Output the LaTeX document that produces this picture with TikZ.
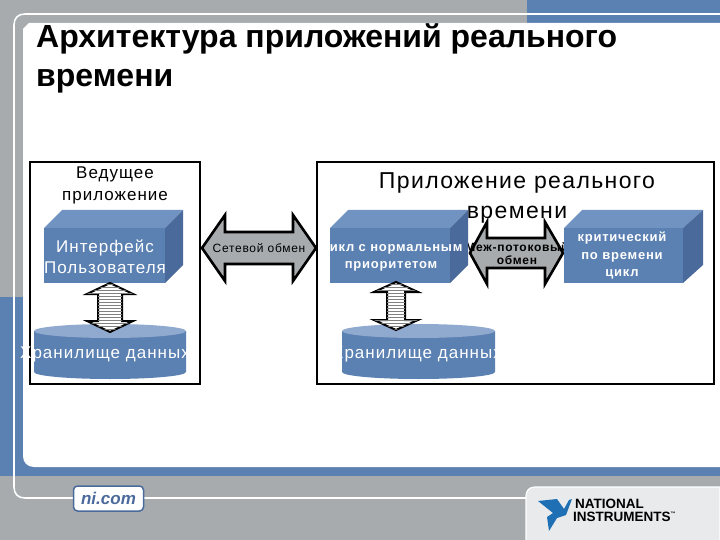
\documentclass[tikz,border=0pt]{standalone}
\usepackage{fontspec}
\setmainfont{Liberation Sans}
\newfontfamily\lab[LetterSpace=6]{Liberation Sans}
\usetikzlibrary{patterns}
\definecolor{bgray}{HTML}{A7ABAE}
\definecolor{nblue}{HTML}{5B80B2}
\definecolor{ntop}{HTML}{7093C2}
\definecolor{nside}{HTML}{4A6A9B}
\definecolor{ctop}{HTML}{8FA9CF}
\definecolor{logop}{HTML}{E8EAEB}
\definecolor{logob}{HTML}{1F6FB5}
\tikzset{x=1pt,y=-1pt,
  frame/.style={draw=black,line width=2pt,fill=white},
  wtext/.style={text=white,align=center,inner sep=0pt},
  btext/.style={text=black,align=center,inner sep=0pt},
  bigarrow/.style={draw=black,line width=2.6pt,fill=bgray,line join=miter},
  stripe/.style={draw=black,line width=2pt,fill=white,postaction={pattern=horizontal lines,pattern color=gray}},
}
% cuboid: x0 front left, x1 front right, x2 back right
\newcommand{\cuboid}[3]{%
  \fill[nblue] (#1,228) rectangle (#2,283);
  \fill[ntop] (#1,228) -- (#1+18,210) -- (#3,210) -- (#2,228) -- cycle;
  \fill[nside] (#2,228) -- (#3,210) -- (#3,265) -- (#2,283) -- cycle;}
% cylinder: x0 left, x1 right
\newcommand{\cyl}[2]{%
  \fill[nblue] (#1,331) -- (#1,372) arc[x radius={(#2-#1)/2},y radius=7,start angle=180,end angle=0] -- (#2,331) -- cycle;
  \fill[ctop] ({(#1+#2)/2},331) ellipse[x radius={(#2-#1)/2},y radius=7];}
% horizontal double arrow: tipL,neckL,neckR,tipR,cy,halfHead,halfShaft
\newcommand{\harrow}[7]{%
  \draw[bigarrow] (#1,#5) -- (#2,#5-#6) -- (#2,#5-#7) -- (#3,#5-#7) -- (#3,#5-#6) -- (#4,#5) -- (#3,#5+#6) -- (#3,#5+#7) -- (#2,#5+#7) -- (#2,#5+#6) -- cycle;}
% vertical double arrow: cx,top,neckT,neckB,bottom,halfHead,halfShaft
\newcommand{\varrow}[7]{%
  \draw[stripe] (#1,#2) -- (#1+#6,#3) -- (#1+#7,#3) -- (#1+#7,#4) -- (#1+#6,#4) -- (#1,#5) -- (#1-#6,#4) -- (#1-#7,#4) -- (#1-#7,#3) -- (#1-#6,#3) -- cycle;}
\begin{document}
\begin{tikzpicture}
\useasboundingbox (0,0) rectangle (720,540);
% backdrop
\fill[bgray] (0,0) rectangle (720,540);
\fill[nblue] (527,0) rectangle (720,23);
\fill[nblue] (0,297) rectangle (40,476);
\fill[nblue] (0,467) rectangle (720,476);
\fill[white] (29,23) -- (720,23) -- (720,467) -- (34,467) .. controls (27,467) and (23,462) .. (23,456) -- (23,29) -- cycle;
\draw[white,line width=1.6pt] (720,14) -- (25,14) .. controls (18,14) and (14,18) .. (14,25) -- (14,487) .. controls (14,494) and (18,498) .. (25,498) -- (526,498);
\fill[logop,draw=white,line width=1.2pt] (720,487) -- (535,487) .. controls (529,487) and (526,491) .. (526,496) -- (526,541) -- (720,541) -- cycle;
% ni.com
\node[draw=nside,line width=1.5pt,fill=white,rounded corners=4pt,minimum width=70pt,minimum height=25pt,inner sep=0pt,text=nside,font=\fontsize{17}{20}\selectfont\bfseries\itshape] (nicom) at (108.5,498.5) {ni.com};
% logo
\fill[logob] (538,501) -- (557,499) -- (564,509) -- (569,500) -- (572,499) -- (566,515) -- (557,518) -- (549,531) -- (547,517) -- (553,513) -- cycle;
\node[inner sep=0pt,anchor=north west,align=left,text=black,font=\fontsize{13.5}{13}\selectfont\bfseries] (nilogo) at (573,498.5) {\hspace{2pt}NATIONAL\\INSTRUMENTS\textsuperscript{\tiny™}};
% title
\node[anchor=north west,align=left,inner sep=0pt,text=black,font=\fontsize{32}{39}\selectfont\bfseries] (title) at (36,23) {Архитектура приложений реального\\времени};
% frames
\draw[frame] (30,162) rectangle (200,384);
\draw[frame] (317,162) rectangle (714,384);
\node[btext,font=\lab\fontsize{17}{22}\selectfont] (hosttitle) at (115,185) {Ведущее\\приложение};
\node[btext,font=\lab\fontsize{23}{30}\selectfont] (rttitle) at (517,198) {Приложение реального\\времени};
% double arrows with labels
\harrow{202}{225}{293}{316}{248}{33}{16}
\node[btext,font=\lab\fontsize{12}{14}\selectfont] (netlabel) at (259,248) {Сетевой обмен};
\harrow{470}{487}{545}{563}{253}{31}{15}
\node[btext,font=\lab\fontsize{12}{13}\selectfont\bfseries] (threadlabel) at (517,254) {Меж-потоковый\\обмен};
% cuboids
\cuboid{44}{165}{183}
\cuboid{330}{450}{468}
\cuboid{564}{683}{703}
\node[wtext,font=\lab\fontsize{17}{21}\selectfont] (ui) at (105,256.5) {Интерфейс\\Пользователя};
\node[wtext,font=\lab\fontsize{13}{17}\selectfont\bfseries] (normal) at (391,256.5) {Цикл с нормальным\\приоритетом};
\node[wtext,font=\lab\fontsize{13}{17.5}\selectfont\bfseries] (critical) at (622,255.5) {критический\\по времени\\цикл};
% cylinders
\cyl{34}{186}
\cyl{342}{495}
\node[wtext,font=\lab\fontsize{17}{20}\selectfont] (store1) at (105,354) {Хранилище данных};
\node[wtext,font=\lab\fontsize{17}{20}\selectfont] (store2) at (417,354) {Хранилище данных};
% vertical arrows
\varrow{110}{283}{294}{321}{332}{23}{12}
\varrow{396}{282}{292}{320}{330}{22}{9}
\end{tikzpicture}
\end{document}
